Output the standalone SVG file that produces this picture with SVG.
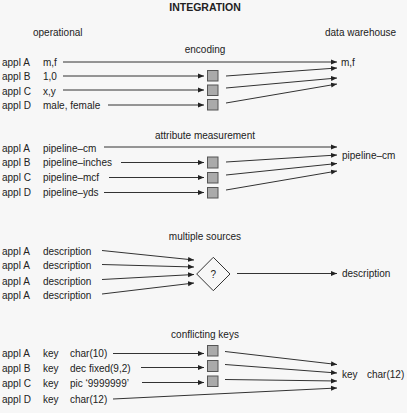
<svg xmlns="http://www.w3.org/2000/svg" width="407" height="413" viewBox="0 0 407 413">
<style>
text{font-family:"Liberation Sans",Arial,sans-serif;font-size:10px;fill:#222}
.t{font-weight:bold;font-size:10.5px;text-anchor:middle}
.h{text-anchor:middle}
.ln{stroke:#333;stroke-width:1;fill:none;marker-end:url(#ah)}
.bx{fill:#aaa;stroke:#555;stroke-width:1}
.dm{fill:none;stroke:#333;stroke-width:1}
</style>
<defs>
<marker id="ah" markerUnits="userSpaceOnUse" markerWidth="7" markerHeight="6" refX="6" refY="3" orient="auto">
<path d="M0,0.5 L6,3 L0,5.5 z" fill="#222"/>
</marker>
</defs>
<rect width="407" height="413" fill="#f7f7f7"/>
<text class="t" x="205" y="11">INTEGRATION</text>
<text x="33" y="35.5">operational</text>
<text x="325" y="35.5">data warehouse</text>

<g id="encoding">
<text class="h" x="205" y="52.5">encoding</text>
<text x="2" y="65.5">appl A</text><text x="43" y="65.5">m,f</text>
<text x="2" y="80">appl B</text><text x="43" y="80">1,0</text>
<text x="2" y="94.5">appl C</text><text x="43" y="94.5">x,y</text>
<text x="2" y="109">appl D</text><text x="43" y="109">male, female</text>
<rect class="bx" x="207.5" y="70.5" width="10.5" height="10.5"/>
<rect class="bx" x="207.5" y="85" width="10.5" height="10.5"/>
<rect class="bx" x="207.5" y="99.5" width="10.5" height="10.5"/>
<text x="341" y="65.5">m,f</text>
</g>

<g id="attribute">
<text class="h" x="205" y="138.5">attribute measurement</text>
<text x="2" y="151.5">appl A</text><text x="43" y="151.5">pipeline–cm</text>
<text x="2" y="166">appl B</text><text x="43" y="166">pipeline–inches</text>
<text x="2" y="181">appl C</text><text x="43" y="181">pipeline–mcf</text>
<text x="2" y="196">appl D</text><text x="43" y="196">pipeline–yds</text>
<rect class="bx" x="207.5" y="157" width="10.5" height="11"/>
<rect class="bx" x="207.5" y="172.5" width="10.5" height="10.5"/>
<rect class="bx" x="207.5" y="187.5" width="10.5" height="10.5"/>
<text x="342" y="158.5">pipeline–cm</text>
</g>

<g id="multiple">
<text class="h" x="205" y="239.5">multiple sources</text>
<text x="2" y="254.5">appl A</text><text x="43" y="254.5">description</text>
<text x="2" y="268.5">appl A</text><text x="43" y="268.5">description</text>
<text x="2" y="284.5">appl A</text><text x="43" y="284.5">description</text>
<text x="2" y="298.5">appl A</text><text x="43" y="298.5">description</text>
<path class="dm" d="M213.3,257.3 L230,274 L213.3,290.7 L196.7,274 z"/>
<text class="h" x="213.3" y="277.5">?</text>
<text x="342" y="277">description</text>
</g>

<g id="keys">
<text class="h" x="205" y="337.5">conflicting keys</text>
<text x="2" y="357">appl A</text><text x="43" y="357">key</text><text x="70" y="357">char(10)</text>
<text x="2" y="371.5">appl B</text><text x="43" y="371.5">key</text><text x="70" y="371.5">dec fixed(9,2)</text>
<text x="2" y="387">appl C</text><text x="43" y="387">key</text><text x="70" y="387">pic ‘9999999’</text>
<text x="2" y="402.5">appl D</text><text x="43" y="402.5">key</text><text x="70" y="402.5">char(12)</text>
<rect class="bx" x="207.5" y="345.5" width="10.5" height="10.5"/>
<rect class="bx" x="207.5" y="360.5" width="10.5" height="11"/>
<rect class="bx" x="207.5" y="376" width="10.5" height="10.5"/>
<text x="342" y="377.5">key</text><text x="367" y="377.5">char(12)</text>
</g>

<g id="connectors">
<line class="ln" x1="63" y1="62" x2="337" y2="62"/>
<line class="ln" x1="63" y1="76" x2="204" y2="76"/>
<line class="ln" x1="63" y1="90" x2="204" y2="90"/>
<line class="ln" x1="108" y1="105" x2="204" y2="105"/>
<line class="ln" x1="226" y1="76" x2="337" y2="68"/>
<line class="ln" x1="226" y1="88" x2="337" y2="78"/>
<line class="ln" x1="226" y1="103" x2="337" y2="84"/>

<line class="ln" x1="104" y1="147" x2="337" y2="147"/>
<line class="ln" x1="121" y1="162.5" x2="204" y2="162.5"/>
<line class="ln" x1="109" y1="177.5" x2="204" y2="177.5"/>
<line class="ln" x1="104" y1="192.5" x2="204" y2="192.5"/>
<line class="ln" x1="226" y1="162" x2="337" y2="155"/>
<line class="ln" x1="226" y1="175" x2="337" y2="163.5"/>
<line class="ln" x1="226" y1="190" x2="337" y2="171"/>

<line class="ln" x1="102" y1="250.5" x2="194" y2="260"/>
<line class="ln" x1="102" y1="264.5" x2="194" y2="267"/>
<line class="ln" x1="102" y1="279.5" x2="194" y2="274.5"/>
<line class="ln" x1="102" y1="294" x2="194" y2="283"/>
<line class="ln" x1="237" y1="273.5" x2="337" y2="273.5"/>

<line class="ln" x1="113" y1="353.5" x2="204" y2="353.5"/>
<line class="ln" x1="141" y1="367.5" x2="204" y2="367.5"/>
<line class="ln" x1="142" y1="382.5" x2="204" y2="382.5"/>
<line class="ln" x1="113" y1="399" x2="337" y2="388"/>
<line class="ln" x1="225" y1="351.5" x2="337" y2="364.5"/>
<line class="ln" x1="225" y1="364.5" x2="337" y2="373"/>
<line class="ln" x1="225" y1="379.5" x2="337" y2="381"/>
</g>
</svg>
